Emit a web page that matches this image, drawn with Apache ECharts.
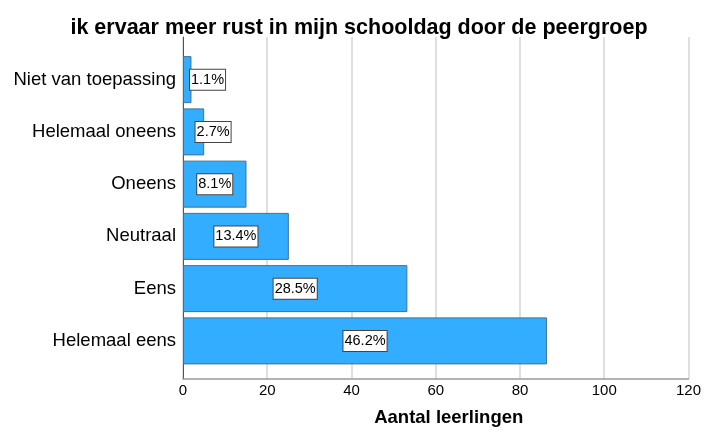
<!DOCTYPE html>
<html>
<head>
<meta charset="utf-8">
<script src="https://cdn.jsdelivr.net/npm/echarts@6/dist/echarts.min.js"></script>
<style>
  html, body { margin: 0; padding: 0; background: #fff; }
  #chart { width: 704px; height: 432px; }
</style>
</head>
<body>
<div id="chart"></div>
<script>
const categories = ["Niet van toepassing", "Helemaal oneens", "Oneens", "Neutraal", "Eens", "Helemaal eens"]
const counts = [2, 5, 15, 25, 53, 86]
const percents = [1.1, 2.7, 8.1, 13.4, 28.5, 46.2]
const xTicks = [0, 20, 40, 60, 80, 100, 120]

const FONT = "'Liberation Sans', Arial, Helvetica, sans-serif"
const PX_PER_UNIT = 507 / 120

const chart = echarts.init(document.getElementById("chart"), null, { renderer: "canvas" })

// short bars get their label pushed off the axis instead of centred
const barData = counts.map((v, i) => {
  const w = v * PX_PER_UNIT
  const item = { value: v }
  if (w < 50) {
    item.label = { position: "insideLeft", distance: Math.max(7, w / 2 + 2) }
  }
  return item
})

const option = {
  animation: false,
  backgroundColor: "#fff",
  title: {
    text: "ik ervaar meer rust in mijn schooldag door de peergroep",
    left: 354,
    textAlign: "center",
    top: 12,
    textStyle: { fontFamily: FONT, fontWeight: "bold", fontSize: 21.5, color: "#000" },
  },
  grid: [
    // frame: gridlines + axis lines
    { left: 183, right: 13, top: 37, bottom: 46 },
    // bars sit inside with SPSS style padding at top/bottom
    { left: 183, right: 13, top: 53.5, bottom: 65 },
  ],
  xAxis: [
    {
      gridIndex: 0,
      type: "value",
      min: xTicks[0],
      max: xTicks[xTicks.length - 1],
      interval: 20,
      name: "Aantal leerlingen",
      nameLocation: "middle",
      nameGap: 29,
      nameTextStyle: { fontFamily: FONT, fontWeight: "bold", fontSize: 18.5, color: "#000", padding: [0, 0, 0, 26] },
      axisLine: { show: true, lineStyle: { color: "#9a9a9a", width: 1.5 } },
      axisTick: { show: false },
      axisLabel: { fontFamily: FONT, fontSize: 15, color: "#000", margin: 4 },
      splitLine: { show: true, lineStyle: { color: "#d4d4d4", width: 1.5 } },
    },
    {
      gridIndex: 1,
      type: "value",
      min: xTicks[0],
      max: xTicks[xTicks.length - 1],
      show: false,
    },
  ],
  yAxis: [
    {
      gridIndex: 0,
      type: "category",
      data: categories,
      inverse: true,
      axisLine: { show: true, lineStyle: { color: "#555", width: 1 } },
      axisTick: { show: false },
      axisLabel: { show: false },
    },
    {
      gridIndex: 1,
      type: "category",
      data: categories,
      inverse: true,
      axisLine: { show: false },
      axisTick: { show: false },
      axisLabel: { fontFamily: FONT, fontSize: 18.5, color: "#000", margin: 7 },
    },
  ],
  series: [
    {
      type: "bar",
      xAxisIndex: 1,
      yAxisIndex: 1,
      data: barData,
      barWidth: 47,
      itemStyle: { color: "#33adff", borderColor: "#44708f", borderWidth: 1 },
      label: {
        show: true,
        position: "inside",
        formatter: p => percents[p.dataIndex].toFixed(1) + "%",
        fontFamily: FONT,
        fontSize: 14.5,
        color: "#000",
        backgroundColor: "#fff",
        borderColor: "#444",
        borderWidth: 1,
        padding: [3, 1, 2, 1],
      },
    },
  ],
}

chart.setOption(option)
</script>
</body>
</html>
